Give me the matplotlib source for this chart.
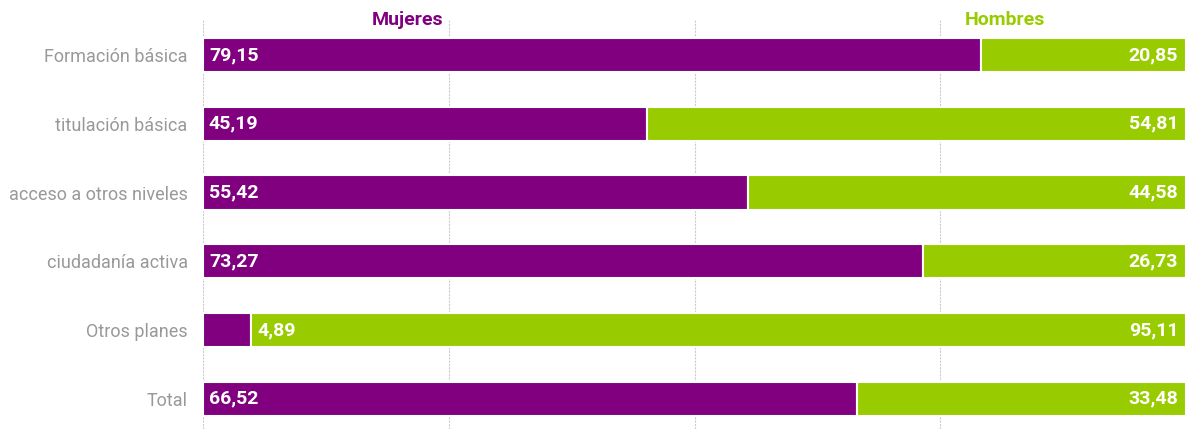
import matplotlib
matplotlib.use("Agg")
import matplotlib.pyplot as plt
from matplotlib import font_manager

categories = ["Formación básica", "titulación básica", "acceso a otros niveles",
              "ciudadanía activa", "Otros planes", "Total"]
mujeres = [79.15, 45.19, 55.42, 73.27, 4.89, 66.52]
hombres = [20.85, 54.81, 44.58, 26.73, 95.11, 33.48]

PURPLE, GREEN, GREY = "#800080", "#99CC00", "#999999"

names = {f.name for f in font_manager.fontManager.ttflist}
FONT = [f for f in ("Liberation Sans Narrow", "Roboto", "DejaVu Sans") if f in names]
plt.rcParams["font.family"] = FONT

fig = plt.figure(figsize=(11.86, 4.29), dpi=100)
ax = fig.add_axes([203 / 1186, 0, 983 / 1186, 409 / 429])

y = range(len(categories))
ax.barh(y, mujeres, height=0.5, color=PURPLE, edgecolor="white", linewidth=1.5, zorder=3)
ax.barh(y, hombres, left=mujeres, height=0.5, color=GREEN, edgecolor="white",
        linewidth=1.5, zorder=3)

for i, (m, h) in enumerate(zip(mujeres, hombres)):
    xm = 0.6 if m > 10 else m + 0.6
    ax.text(xm, i, f"{m:.2f}".replace(".", ","), color="white", fontsize=14,
            fontweight="bold", va="center", ha="left", zorder=4)
    ax.text(99.2, i, f"{h:.2f}".replace(".", ","), color="white", fontsize=14,
            fontweight="bold", va="center", ha="right", zorder=4)

ax.set_xlim(0, 100)
ax.set_ylim(5.44, -0.51)
ax.set_xticks([0, 25, 50, 75])
ax.set_xticklabels([])
ax.tick_params(length=0)
ax.grid(axis="x", color="#cccccc", linestyle=(0, (2, 1)), linewidth=0.8, zorder=0)
ax.set_yticks(list(y))
ax.set_yticklabels(categories, color=GREY, fontsize=13)
ax.tick_params(axis="y", pad=11)
for s in ax.spines.values():
    s.set_visible(False)

fig.text(408 / 1186, 1 - 20 / 429, "Mujeres", color=PURPLE, fontsize=14,
         fontweight="bold", ha="center", va="center")
fig.text(1005 / 1186, 1 - 20 / 429, "Hombres", color=GREEN, fontsize=14,
         fontweight="bold", ha="center", va="center")

fig.savefig("out.png", dpi=100, facecolor="white")
